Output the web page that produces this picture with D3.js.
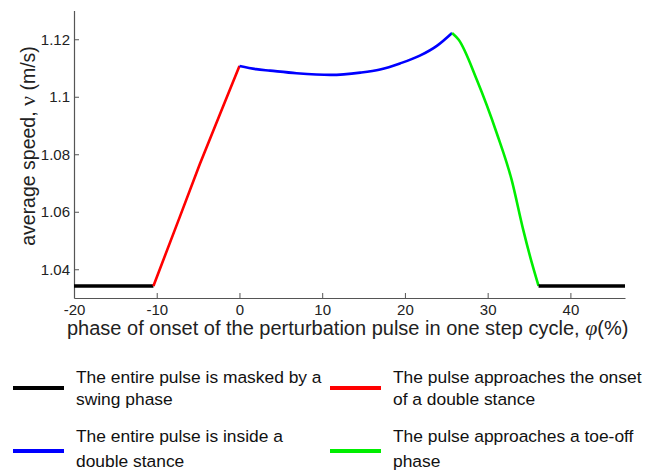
<!DOCTYPE html>
<html>
<head>
<meta charset="utf-8">
<script src="https://cdn.jsdelivr.net/npm/d3@7"></script>
<style>
  body { margin: 0; background: #fff; }
  svg { display: block; font-family: Arial, "Liberation Sans", sans-serif; }
</style>
</head>
<body>
<script>
// phase of onset (%) and average speed (m/s) for each curve segment
const swingLeftX = [-20, -10.4];
const swingLeftY = [1.0342, 1.0342];
const onsetX = [-10.4, -7.2, -4.8, -2.35, 0];
const onsetY = [1.0342, 1.0583, 1.0765, 1.0940, 1.1107];
const insideX = [0, 2, 3.7, 6.9, 11, 14.6, 17.0, 19.4, 21.8, 23.9, 25.7];
const insideY = [1.1107, 1.1096, 1.1091, 1.1082, 1.1076, 1.1084, 1.1095, 1.1116, 1.1143, 1.1178, 1.1222];
const toeOffX = [25.7, 26.5, 28.7, 31.1, 32.9, 34.3, 35.35, 36.15];
const toeOffY = [1.1222, 1.1198, 1.1058, 1.0873, 1.0711, 1.0537, 1.0421, 1.0342];
const swingRightX = [36.15, 46.6];
const swingRightY = [1.0342, 1.0342];

const xTicks = [-20, -10, 0, 10, 20, 30, 40];
const yTicks = [1.04, 1.06, 1.08, 1.1, 1.12];

const legendLabels = [
  ['The entire pulse is masked by a', 'swing phase'],
  ['The pulse approaches the onset', 'of a double stance'],
  ['The entire pulse is inside a', 'double stance'],
  ['The pulse approaches a toe-off', 'phase']
];
const legendColors = ['#000000', '#ff0000', '#0000ff', '#00ee00'];

const width = 647;
const height = 471;

const svg = d3.select('body')
  .append('svg')
  .attr('width', width)
  .attr('height', height);

const x = d3.scaleLinear().domain([-20, 46.6]).range([74, 625]);
const y = d3.scaleLinear().domain([1.03, 1.13]).range([298, 10.5]);

// axes, MATLAB style: ticks inside, no box
const xAxis = svg.append('g')
  .attr('transform', 'translate(0,298)')
  .call(d3.axisBottom(x).tickValues(xTicks).tickSizeInner(-5).tickSizeOuter(0).tickPadding(6)
    .tickFormat(d => String(d)));
const yAxis = svg.append('g')
  .attr('transform', 'translate(74,0)')
  .call(d3.axisLeft(y).tickValues(yTicks).tickSizeInner(-5).tickSizeOuter(0).tickPadding(4)
    .tickFormat(d => String(+d.toFixed(2))));

[xAxis, yAxis].forEach(g => {
  g.select('.domain').attr('stroke', '#555').attr('stroke-width', 1.2);
  g.selectAll('.tick line').attr('stroke', '#555');
  g.selectAll('.tick text').attr('fill', '#222').style('font-size', '15px').style('font-family', 'Arial, "Liberation Sans", sans-serif');
});

const straight = d3.line()
  .x(d => x(d[0]))
  .y(d => y(d[1]));
const smooth = d3.line()
  .x(d => x(d[0]))
  .y(d => y(d[1]))
  .curve(d3.curveMonotoneX);

const segments = [
  { xs: swingLeftX, ys: swingLeftY, color: legendColors[0], w: 3.5, gen: straight },
  { xs: onsetX, ys: onsetY, color: legendColors[1], w: 2.6, gen: straight },
  { xs: insideX, ys: insideY, color: legendColors[2], w: 2.6, gen: smooth },
  { xs: toeOffX, ys: toeOffY, color: legendColors[3], w: 2.6, gen: smooth },
  { xs: swingRightX, ys: swingRightY, color: legendColors[0], w: 3.5, gen: straight }
];

svg.append('g')
  .selectAll('path')
  .data(segments)
  .enter()
  .append('path')
  .attr('d', s => s.gen(s.xs.map((v, i) => [v, s.ys[i]])))
  .attr('fill', 'none')
  .attr('stroke', s => s.color)
  .attr('stroke-width', s => s.w)
  .attr('stroke-linejoin', 'round');

// axis labels
const yLabel = svg.append('text')
  .attr('transform', 'translate(35,146) rotate(-90)')
  .attr('text-anchor', 'middle')
  .attr('fill', '#222')
  .style('font-size', '19.5px');
yLabel.append('tspan').text('average speed, ');
yLabel.append('tspan').style('font-family', '"Liberation Serif", "DejaVu Serif", serif').style('font-size', '22px').text('ν');
yLabel.append('tspan').text(' (m/s)');

const xLabel = svg.append('text')
  .attr('x', 67)
  .attr('y', 335)
  .attr('fill', '#222')
  .style('font-size', '20px');
xLabel.append('tspan').text('phase of onset of the perturbation pulse in one step cycle, ');
xLabel.append('tspan').style('font-family', '"Liberation Serif", "DejaVu Serif", serif').style('font-style', 'italic').style('font-size', '22px').text('φ');
xLabel.append('tspan').text('(%)');

// legend
const legendPos = [
  { lx: 13, tx: 76, ly: 388, b1: 383, b2: 405 },
  { lx: 330, tx: 393, ly: 388, b1: 383, b2: 405 },
  { lx: 13, tx: 76, ly: 451, b1: 442, b2: 467 },
  { lx: 330, tx: 393, ly: 451, b1: 442, b2: 467 }
];

const legend = svg.append('g')
  .selectAll('g')
  .data(legendLabels)
  .enter()
  .append('g');

legend.append('line')
  .attr('x1', (d, i) => legendPos[i].lx)
  .attr('x2', (d, i) => legendPos[i].lx + 51)
  .attr('y1', (d, i) => legendPos[i].ly)
  .attr('y2', (d, i) => legendPos[i].ly)
  .attr('stroke', (d, i) => legendColors[i])
  .attr('stroke-width', 4);

legend.append('text')
  .attr('x', (d, i) => legendPos[i].tx)
  .attr('y', (d, i) => legendPos[i].b1)
  .attr('fill', '#111')
  .style('font-size', '17.4px')
  .text(d => d[0]);

legend.append('text')
  .attr('x', (d, i) => legendPos[i].tx)
  .attr('y', (d, i) => legendPos[i].b2)
  .attr('fill', '#111')
  .style('font-size', '17.4px')
  .text(d => d[1]);
</script>
</body>
</html>
